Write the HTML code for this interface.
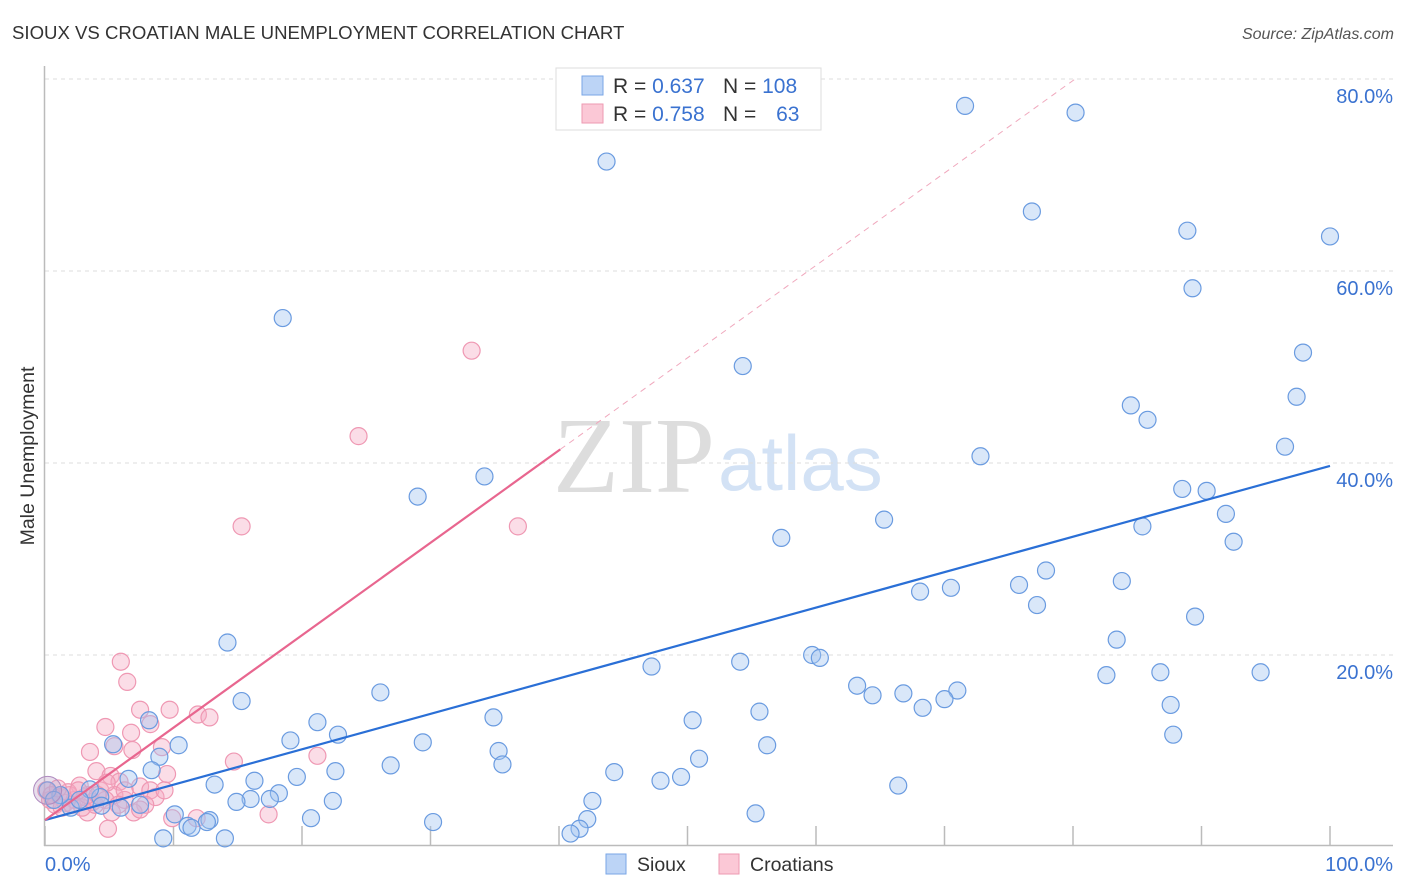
<!DOCTYPE html>
<html><head><meta charset="utf-8">
<style>
body{margin:0;background:#fff;font-family:"Liberation Sans",sans-serif;}
#wrap{position:relative;width:1406px;height:892px;overflow:hidden;}
</style></head>
<body>
<div id="wrap">
<svg id="chart" width="1406" height="892" xmlns="http://www.w3.org/2000/svg">
<text x="12" y="39" font-size="18.6" fill="#333">SIOUX VS CROATIAN MALE UNEMPLOYMENT CORRELATION CHART</text>
<text x="1394" y="39" font-size="16" fill="#555" font-style="italic" text-anchor="end">Source: ZipAtlas.com</text>
<text transform="translate(34,456) rotate(-90)" font-size="19.5" fill="#333" text-anchor="middle">Male Unemployment</text>
<g>
<text x="553" y="492" font-size="108" fill="#ddd" font-family="Liberation Serif,serif">ZIP</text>
<text x="718" y="490" font-size="78" fill="#d3e2f5">atlas</text>
</g>
<g id="grid"></g>
<g id="axes"></g>
<g id="pts"></g>
<g id="lines"></g>
<g>
<rect x="556" y="68" width="265" height="62" fill="#fff" stroke="#ddd"/>
<rect x="582" y="76" width="21" height="19" fill="#bcd4f6" stroke="#7aa6e6"/>
<rect x="582" y="104" width="21" height="19" fill="#fbc8d6" stroke="#ee9ab2"/>
<text x="613" y="93" font-size="21" fill="#333">R = <tspan fill="#3a72d0">0.637</tspan></text>
<text x="723" y="93" font-size="21" fill="#333">N = <tspan fill="#3a72d0">108</tspan></text>
<text x="613" y="121" font-size="21" fill="#333">R = <tspan fill="#3a72d0">0.758</tspan></text>
<text x="723" y="121" font-size="21" fill="#333">N = <tspan fill="#3a72d0" dx="14">63</tspan></text>
</g>
<g>
<rect x="606" y="854" width="20" height="20" fill="#bcd4f6" stroke="#7aa6e6"/>
<text x="637" y="871" font-size="19.5" fill="#333">Sioux</text>
<rect x="719" y="854" width="20" height="20" fill="#fbc8d6" stroke="#ee9ab2"/>
<text x="750" y="871" font-size="19.5" fill="#333">Croatians</text>
</g>
</svg>
</div>
<script>
const yTicks=[20,40,60,80];
const yTickLabels=["20.0%","40.0%","60.0%","80.0%"];
const xTicks=[0,10,20,30,40,50,60,70,80,90,100];
const xEndLabels=["0.0%","100.0%"];
const siouxX=[71.6,80.2,43.7,76.8,88.9,100,89.3,18.5,97.9,54.3,97.4,84.5,85.8,96.5,72.8,34.2,29.0,88.5,90.4,91.9,65.3,85.4,92.5,57.3,77.9,75.8,68.1,70.5,83.8,77.2,89.5,14.2,83.4,59.7,60.3,54.1,47.2,82.6,86.8,94.6,63.2,64.4,66.8,71.0,70.0,26.1,68.3,15.3,87.6,8.1,21.2,34.9,50.4,55.6,22.8,87.8,19.1,10.4,5.3,29.4,56.2,35.3,35.6,8.9,50.9,26.9,22.6,8.3,44.3,6.5,19.6,49.5,47.9,16.3,13.2,66.4,18.2,4.3,17.5,16.0,14.9,22.4,42.6,7.4,2.0,4.4,5.9,10.1,20.7,30.2,12.8,55.3,12.6,11.1,11.4,42.2,41.6,40.9,9.2,14.0,3.5,1.2,0.2,0.7,2.7];
const siouxY=[77.2,76.5,71.4,66.2,64.2,63.6,58.2,55.1,51.5,50.1,46.9,46.0,44.5,41.7,40.7,38.6,36.5,37.3,37.1,34.7,34.1,33.4,31.8,32.2,28.8,27.3,26.6,27.0,27.7,25.2,24.0,21.3,21.6,20.0,19.7,19.3,18.8,17.9,18.2,18.2,16.8,15.8,16.0,16.3,15.4,16.1,14.5,15.2,14.8,13.2,13.0,13.5,13.2,14.1,11.7,11.7,11.1,10.6,10.7,10.9,10.6,10.0,8.6,9.4,9.2,8.5,7.9,8.0,7.8,7.1,7.3,7.3,6.9,6.9,6.5,6.4,5.6,5.2,5.0,5.0,4.7,4.8,4.8,4.4,4.1,4.3,4.1,3.4,3.0,2.6,2.8,3.5,2.6,2.2,2.0,2.9,1.9,1.4,0.9,0.9,6.0,5.4,5.9,4.9,4.9];
const croX=[33.2,24.4,15.3,36.8,5.9,6.4,7.4,9.7,11.9,12.8,4.7,8.2,6.7,3.5,5.4,6.8,9.1,14.7,21.2,4.0,5.1,9.5,2.7,4.3,5.8,7.4,8.2,5.4,6.2,8.6,1.2,1.9,0.4,0.8,1.6,2.3,3.1,3.7,4.7,7.8,3.3,5.2,6.9,9.9,11.8,17.4,4.9,7.4,0.1,0.5,1.3,2.1,2.9,3.9,6.2,9.3,4.8,3.3,1.8,1.0,2.6,4.1,5.7];
const croY=[51.7,42.8,33.4,33.4,19.3,17.2,14.3,14.3,13.8,13.5,12.5,12.8,11.9,9.9,10.5,10.1,10.4,8.9,9.5,7.9,7.4,7.6,6.4,5.9,6.8,6.3,5.9,5.4,4.9,5.2,5.2,5.4,4.9,4.4,4.6,4.9,5.2,4.7,4.9,4.4,3.6,3.6,3.6,3.0,3.0,3.4,1.9,3.9,5.9,5.4,4.1,4.4,4.1,4.4,5.9,5.9,6.7,5.4,5.7,6.1,5.9,5.4,4.4];
const siouxTrend=[2.8,39.7];
const croTrend=[2.8,0.963];
const croSolidEnd=40.1;

const NS="http://www.w3.org/2000/svg";
const X0=45,X1=1330,Y0=847,PXY=9.6;
function sx(v){return X0+(X1-X0)*v/100;}
function sy(v){return Y0-v*PXY;}
function mk(tag,attrs,parent){const e=document.createElementNS(NS,tag);for(const k in attrs)e.setAttribute(k,attrs[k]);parent.appendChild(e);return e;}
const grid=document.getElementById('grid'),axes=document.getElementById('axes'),pts=document.getElementById('pts'),lines=document.getElementById('lines');
yTicks.forEach((t,i)=>{
  const l=mk('line',{x1:45,x2:1393,y1:sy(t),y2:sy(t),stroke:'#ddd','stroke-dasharray':'4,4'},grid);
  
  
  const tx=mk('text',{x:1393,y:sy(t)+24,'font-size':20,fill:'#3a72d0','text-anchor':'end'},grid);
  tx.textContent=yTickLabels[i];
  
  
});
const ya=mk('line',{x1:44.5,x2:44.5,y1:66,y2:846,stroke:'#bbb','stroke-width':1.5},axes);


const xa=mk('line',{x1:44,x2:1393,y1:845.5,y2:845.5,stroke:'#bbb','stroke-width':1.5},axes);


xTicks.forEach(t=>{
  const l=mk('line',{x1:sx(t),x2:sx(t),y1:826,y2:846,stroke:'#bbb','stroke-width':1.5},axes);
  
  
});
const xl0=mk('text',{x:45,y:871,'font-size':20,fill:'#3a72d0'},axes);xl0.textContent=xEndLabels[0];


const xl1=mk('text',{x:1393,y:871,'font-size':20,fill:'#3a72d0','text-anchor':'end'},axes);xl1.textContent=xEndLabels[1];


croX.forEach((x,i)=>{
  const c=mk('circle',{cx:sx(x),cy:sy(croY[i]),r:8.5,fill:'rgba(246,170,195,0.4)',stroke:'#ef98b3','stroke-width':1.2},pts);
  
  
});
siouxX.forEach((x,i)=>{
  const c=mk('circle',{cx:sx(x),cy:sy(siouxY[i]),r:8.5,fill:'rgba(160,196,240,0.4)',stroke:'#6a9be0','stroke-width':1.2},pts);
  
  
});
const big=mk('circle',{cx:sx(0.2),cy:sy(5.9),r:14,fill:'rgba(190,160,200,0.35)',stroke:'#b08cc0','stroke-width':1},pts);


const bl=mk('line',{x1:sx(0),y1:sy(siouxTrend[0]),x2:sx(100),y2:sy(siouxTrend[1]),stroke:'#2a6fd6','stroke-width':2.2},lines);


const cy=x=>croTrend[0]+croTrend[1]*x;
const pl=mk('line',{x1:sx(0),y1:sy(cy(0)),x2:sx(croSolidEnd),y2:sy(cy(croSolidEnd)),stroke:'#e8668f','stroke-width':2.2},lines);


const xe=(80-croTrend[0])/croTrend[1];
const pd=mk('line',{x1:sx(croSolidEnd),y1:sy(cy(croSolidEnd)),x2:sx(xe),y2:sy(80),stroke:'#f0a8bd','stroke-width':1,'stroke-dasharray':'6,5'},lines);


</script>
</body></html>
